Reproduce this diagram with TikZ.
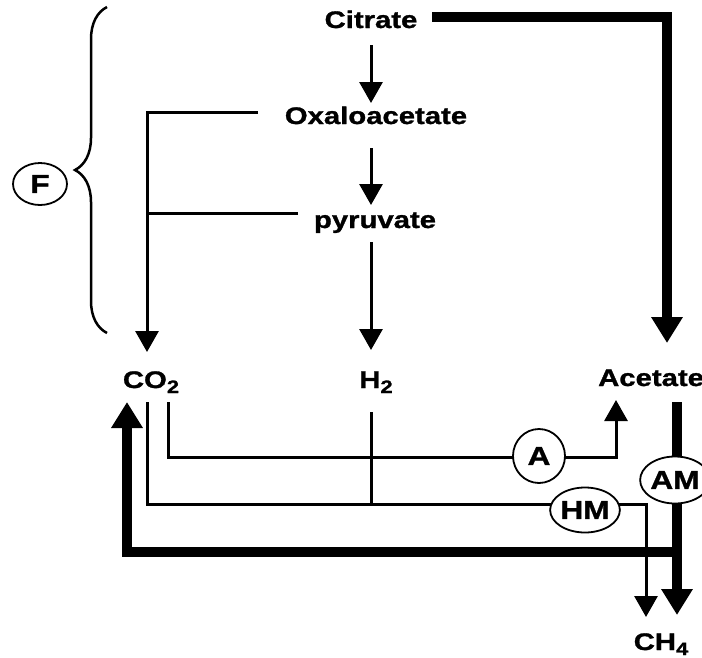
\documentclass[tikz,border=0pt]{standalone}
\usepackage{fontspec}
\setmainfont{Liberation Sans}[FakeStretch=1.22,FakeBold=1.2]
\usetikzlibrary{shapes.geometric,arrows.meta,decorations.pathreplacing,backgrounds}
\newcommand\molsub[1]{\raisebox{-5pt}{\fontsize{18}{18}\selectfont #1}}
\begin{document}
\begin{tikzpicture}[x=1pt,y=-1pt,
  lbl/.style={font=\fontsize{24}{24}\selectfont\bfseries, inner sep=0pt},
  thinln/.style={line width=3pt},
  thickln/.style={line width=9.5pt},
  tarr/.style={thinln,-{Triangle[width=23pt,length=21pt]}},
  karr/.style={thickln,-{Triangle[width=30pt,length=26pt]}},
  elab/.style={draw,line width=1.8pt,ellipse,inner sep=0pt,fill=white,
    font=\fontsize{26}{26}\selectfont\bfseries},
  bracedec/.style={line width=2.5pt,decorate,decoration={brace,amplitude=32pt}}
]
\useasboundingbox (0,0) rectangle (702,657);

% labels
\node[lbl,anchor=base] (citrate) at (371,28) {Citrate};
\node[lbl,anchor=base] (oxalo) at (376,124) {Oxaloacetate};
\node[lbl,anchor=base] (pyr) at (375,228) {pyruvate};
\node[lbl,anchor=base] (co2) at (151,388) {CO\molsub{2}};
\node[lbl,anchor=base] (h2) at (376,388) {H\molsub{2}};
\node[lbl,anchor=base west] (acetate) at (598,386) {Acetate};
\node[lbl,anchor=base] (ch4) at (661,650) {CH\molsub{4}};

% enzyme labels
\node[elab,minimum width=54pt,minimum height=42pt] (F) at (40,184) {F};
\node[elab,minimum width=52pt,minimum height=54pt] (A) at (539,456) {A};
\node[elab,minimum width=64pt,minimum height=45pt] (HM) at (585,510) {HM};
\node[elab,minimum width=56pt,minimum height=47pt] (AM) at (675,480) {AM};

% named connector ends
\coordinate (citOut) at (432,17);
\coordinate (acIn) at (667,343);
\coordinate (citDown) at (371,45);
\coordinate (oxIn) at (371,103);
\coordinate (oxDown) at (371,148);
\coordinate (pyIn) at (371,205);
\coordinate (pyDown) at (371,242);
\coordinate (h2In) at (371,350);
\coordinate (oxLeft) at (258,112);
\coordinate (pyLeft) at (298,213);
\coordinate (co2In) at (147,352);
\coordinate (h2Out) at (371,412);
\coordinate (co2OutA) at (147,402);
\coordinate (co2OutB) at (168,402);
\coordinate (co2Back) at (127,402);
\coordinate (acUp) at (616,400);
\coordinate (acOut) at (677,402);
\coordinate (ch4InA) at (646,617);
\coordinate (ch4InB) at (677,615);
\coordinate (braceTop) at (107,7);
\coordinate (braceBot) at (107,333);

\begin{scope}[on background layer]
\draw[karr] (citOut) -| (acIn);
\draw[tarr] (citDown) -- (oxIn);
\draw[tarr] (oxDown) -- (pyIn);
\draw[tarr] (pyDown) -- (h2In);
\draw[tarr] (oxLeft) -| (co2In);
\draw[thinln] (pyLeft) -- (147,213);
\draw[thinln] (h2Out) -- (371,504);
\draw[tarr] (co2OutA) |- (646,504) -- (ch4InA);
\draw[tarr] (co2OutB) |- (616,457) -- (acUp);
\draw[karr] (acOut) -- (ch4InB);
\draw[karr] (677,552) -| (co2Back);
\draw[bracedec] (braceBot) -- (braceTop);
\end{scope}
\end{tikzpicture}
\end{document}
